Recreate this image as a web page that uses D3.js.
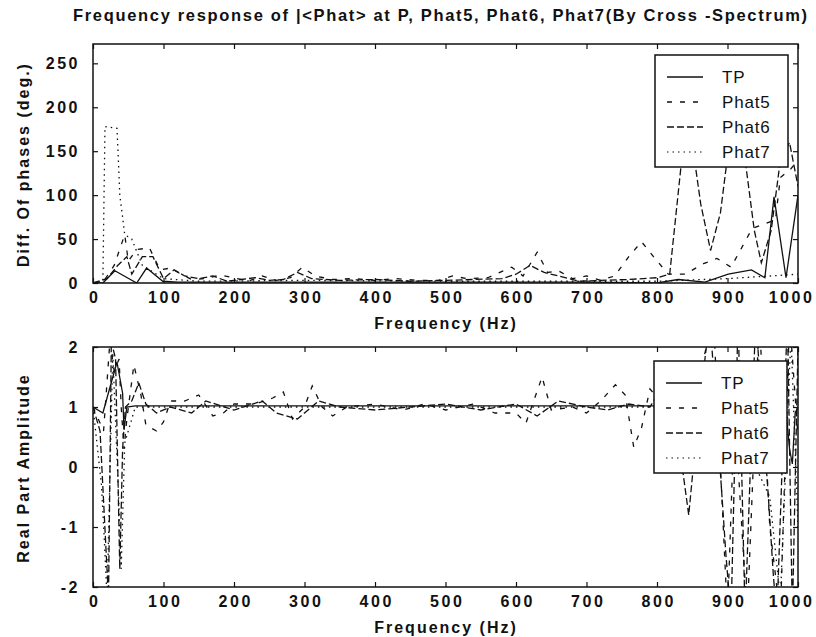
<!DOCTYPE html>
<html>
<head>
<meta charset="utf-8">
<script src="https://cdn.jsdelivr.net/npm/d3@7"></script>
<style>
  body { margin: 0; background: #fff; }
  text { font-family: 'Liberation Sans', Arial, sans-serif; fill: #111; }
  .tick text { font-size: 16px; font-weight: bold; letter-spacing: 2.5px; }
  .tick line { stroke: #111; stroke-width: 1.2; }
  .axis-label { font-size: 16px; font-weight: bold; letter-spacing: 2px; }
  .title { font-size: 16.5px; font-weight: bold; }
  .legend-text { font-size: 17px; letter-spacing: 0.8px; }
  .frame { fill: none; stroke: #111; stroke-width: 1.5; }
  .series { fill: none; stroke: #111; stroke-width: 1.3; }
</style>
</head>
<body>
<svg id="chart" width="816" height="637"></svg>
<script>

///////////////////////////////////////////////////////////////////////////
//////////////////// Data /////////////////////
///////////////////////////////////////////////////////////////////////////

const seriesNames = ["TP", "Phat5", "Phat6", "Phat7"];
const freqTicks = [0, 100, 200, 300, 400, 500, 600, 700, 800, 900, 1000];
const phaseTicks = [0, 50, 100, 150, 200, 250];
const ampTicks = [-2, -1, 0, 1, 2];

// [frequency (Hz), phase difference (deg.)]
const tpPhase = [[0,0],[14,0],[31,14],[62,0],[76,17],[99,2],[120,1],[200,1],[300,1],[400,1],[500,1],
  [600,1],[700,1],[800,0],[830,4],[868,1],[901,10],[934,15],[953,6],[966,98],[983,6],[1000,100]];

const phat5Phase = [[0,0],[16,3],[30,20],[45,55],[50,25],[62,38],[80,40],[95,15],[110,17],[125,10],
  [140,4],[160,5],[180,9],[200,6],[220,2],[240,8],[260,3],[280,6],[297,18],[315,8],[340,4],[370,5],
  [400,3],[430,5],[460,3],[490,3],[510,8],[530,5],[560,6],[594,18],[610,8],[630,35],[645,12],
  [660,14],[680,5],[700,8],[720,3],[740,8],[760,30],[778,47],[795,30],[816,10],[840,10],[866,22],
  [885,28],[905,18],[935,62],[955,68],[968,72],[975,120],[990,130],[1000,140]];

const phat6Phase = [[0,0],[20,5],[35,20],[48,30],[55,10],[70,30],[85,30],[100,5],[115,15],[130,8],
  [150,5],[170,8],[190,2],[210,4],[230,6],[250,3],[270,4],[290,12],[310,5],[350,3],[400,4],[450,2],
  [500,3],[540,4],[580,5],[600,10],[620,20],[640,12],[660,8],[690,2],[720,3],[760,4],[800,6],
  [818,10],[835,140],[848,170],[862,90],[876,37],[890,80],[901,150],[915,175],[925,140],[938,60],
  [948,23],[962,60],[975,140],[988,160],[1000,110]];

const phat7Phase = [[0,0],[14,2],[17,178],[34,176],[36,140],[38,100],[42,75],[45,55],[55,50],
  [70,20],[100,5],[150,2],[300,3],[500,2],[700,2],[800,2],[900,5],[1000,10]];

// [frequency (Hz), real part amplitude]
const tpReal = [[0,1],[14,0.9],[34,1.75],[42,1.23],[44,0.62],[48,1.0],[60,1.02],[100,1.02],
  [800,1.02],[960,1.02],[975,1.05],[983,0.95],[988,0.3],[992,0.05],[996,0.9],[1000,1.0]];

const phat5Real = [[0,1],[15,0.6],[24,2.1],[30,1.6],[37,1.8],[40,1.0],[44,0.3],[48,0.8],[58,1.7],
  [68,1.2],[75,0.7],[90,0.6],[100,0.75],[110,1.1],[130,1.1],[150,1.2],[170,0.85],[185,0.9],
  [200,1.05],[230,1.05],[255,1.15],[270,1.25],[283,0.8],[300,1.0],[311,1.35],[325,1.0],[340,0.85],
  [360,1.0],[400,1.05],[440,0.95],[470,1.05],[500,0.95],[540,1.05],[570,0.9],[600,0.9],[614,0.73],
  [637,1.5],[650,0.95],[680,1.0],[700,0.9],[720,1.1],[741,1.37],[755,1.2],[767,0.33],[778,0.65],
  [790,1.3],[805,1.1],[820,1.8],[840,0.2],[860,1.5],[880,2.5],[900,-2.5],[910,1],[928,-2.5],
  [945,2.5],[960,-1],[975,-2.5],[988,2.5],[1000,0.5]];

const phat6Real = [[0,1],[10,0.6],[22,-2.2],[26,2.1],[32,1.8],[38,-1.7],[42,0.3],[46,1.0],[55,1.1],
  [65,1.4],[75,1.05],[90,0.9],[110,1.0],[140,0.9],[160,1.1],[200,0.95],[240,1.1],[260,0.9],
  [290,0.8],[320,1.1],[350,1.0],[400,0.95],[450,1.0],[500,1.05],[550,0.95],[600,1.05],[630,0.85],
  [660,1.1],[700,1.0],[730,0.95],[760,1.05],[790,1.0],[815,1.5],[830,0.5],[845,-0.8],[858,0.8],
  [875,2.5],[898,-1.5],[905,-2.5],[915,2.5],[925,-2.5],[940,2.5],[958,-0.5],[965,-1.8],[970,-2.5],
  [985,2.5],[992,-2.5],[1000,2]];

const phat7Real = [[0,1],[12,-0.3],[16,-1.2],[20,-2.2],[28,1.9],[36,-0.4],[40,-1.7],[45,0.4],
  [60,1.0],[200,1.0],[500,1.0],[800,1.0],[900,1.0],[960,-0.5],[975,-2.2],[990,2.2],[1000,-1]];

///////////////////////////////////////////////////////////////////////////
//////////////////// Layout and styles ////////////////////////////////////
///////////////////////////////////////////////////////////////////////////

const dashes = { TP: null, Phat5: "5,8", Phat6: "7,3", Phat7: "1.5,4" };

const svg = d3.select("#chart");

const x = d3.scaleLinear().domain([0, 1000]).range([93, 798]);

svg.append("text")
  .attr("class", "title")
  .attr("x", 440).attr("y", 21)
  .attr("text-anchor", "middle")
  .attr("textLength", 734)
  .attr("lengthAdjust", "spacing")
  .text("Frequency response of |<Phat> at P, Phat5, Phat6, Phat7(By Cross -Spectrum)");

function drawPanel(cfg) {
  const y = d3.scaleLinear().domain(cfg.domain).range([cfg.bottom, cfg.top]);
  const g = svg.append("g");

  g.append("clipPath").attr("id", cfg.id)
    .append("rect")
    .attr("x", x.range()[0]).attr("y", cfg.top)
    .attr("width", x.range()[1] - x.range()[0]).attr("height", cfg.bottom - cfg.top);

  // lines
  const line = d3.line().x(d => x(d[0])).y(d => y(d[1]));
  g.append("g").attr("clip-path", "url(#" + cfg.id + ")")
    .selectAll("path")
    .data(cfg.series)
    .join("path")
    .attr("class", "series")
    .attr("stroke-dasharray", (d, i) => dashes[seriesNames[i]])
    .attr("stroke-width", (d, i) => i === 3 ? 1.1 : 1.3)
    .attr("d", d => line(d));

  // axes (ticks pointing inward, MATLAB box style)
  const xb = g.append("g").attr("transform", "translate(0," + cfg.bottom + ")")
    .call(d3.axisBottom(x).tickValues(freqTicks).tickSize(-5).tickPadding(9).tickFormat(d3.format("d")));
  xb.selectAll(".tick text").attr("dx", d => d === 1000 ? "-7px" : "1.2px");
  g.append("g").attr("transform", "translate(0," + cfg.top + ")")
    .call(d3.axisTop(x).tickValues(freqTicks).tickSize(-5).tickFormat(""));
  g.append("g").attr("transform", "translate(" + x.range()[0] + ",0)")
    .call(d3.axisLeft(y).tickValues(cfg.ticks).tickSize(-5).tickPadding(13).tickFormat(d3.format("d")));
  g.append("g").attr("transform", "translate(" + x.range()[1] + ",0)")
    .call(d3.axisRight(y).tickValues(cfg.ticks).tickSize(-5).tickFormat(""));
  g.selectAll(".domain").remove();
  g.selectAll(".tick text").each(function() {
    const t = d3.select(this);
    t.text(t.text().replace("\u2212", "-"));
  });

  g.append("rect")
    .attr("class", "frame")
    .attr("x", x.range()[0]).attr("y", cfg.top)
    .attr("width", x.range()[1] - x.range()[0]).attr("height", cfg.bottom - cfg.top);

  // axis labels
  g.append("text")
    .attr("class", "axis-label")
    .attr("x", 446).attr("y", cfg.bottom + 46)
    .attr("text-anchor", "middle")
    .text("Frequency (Hz)");
  g.append("text")
    .attr("class", "axis-label")
    .attr("transform", "translate(29," + ((cfg.top + cfg.bottom) / 2 + 1) + ") rotate(-90)")
    .attr("text-anchor", "middle")
    .text(cfg.yLabel);

  // legend
  const lg = g.append("g").attr("transform", "translate(" + cfg.legend[0] + "," + cfg.legend[1] + ")");
  lg.append("rect")
    .attr("class", "frame")
    .style("fill", "#fff")
    .attr("width", 133).attr("height", 112);
  const item = lg.selectAll(".item")
    .data(seriesNames)
    .join("g")
    .attr("transform", (d, i) => "translate(0," + (22 + i * 25) + ")");
  item.append("line")
    .attr("x1", 12).attr("x2", 48)
    .attr("stroke", "#111")
    .attr("stroke-width", (d, i) => i === 3 ? 1.1 : 1.3)
    .attr("stroke-dasharray", d => dashes[d]);
  item.append("text")
    .attr("class", "legend-text")
    .attr("x", 67).attr("dy", "0.36em")
    .text(d => d);
}

drawPanel({
  id: "clipTop", top: 44, bottom: 283, domain: [0, 272], ticks: phaseTicks,
  series: [tpPhase, phat5Phase, phat6Phase, phat7Phase],
  yLabel: "Diff. Of phases (deg.)", legend: [655, 55]
});

drawPanel({
  id: "clipBottom", top: 347, bottom: 587, domain: [-2, 2], ticks: ampTicks,
  series: [tpReal, phat5Real, phat6Real, phat7Real],
  yLabel: "Real Part Amplitude", legend: [654, 361]
});

</script>
</body>
</html>
